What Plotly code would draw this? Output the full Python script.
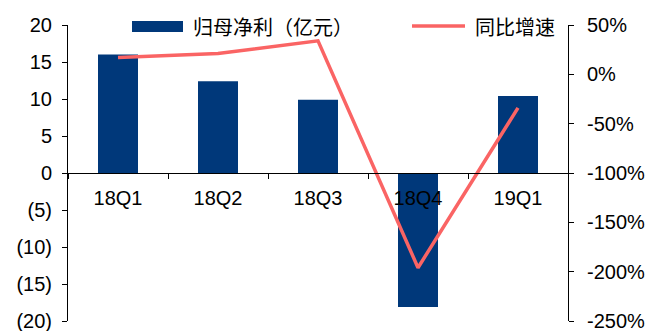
import plotly.graph_objects as go

# Quarterly data
quarters = ["18Q1", "18Q2", "18Q3", "18Q4", "19Q1"]
net_profit = [16.0, 12.4, 9.9, -18.1, 10.4]          # 归母净利（亿元）
yoy_growth = [17, 21, 34, -196, -34]                 # 同比增速（%）

# Axis tick labels
left_tickvals = [20, 15, 10, 5, 0, -5, -10, -15, -20]
left_ticktext = ["20", "15", "10", "5", "0", "(5)", "(10)", "(15)", "(20)"]
right_tickvals = [50, 0, -50, -100, -150, -200, -250]
right_ticktext = ["50%", "0%", "-50%", "-100%", "-150%", "-200%", "-250%"]

BAR_COLOR = "#00387A"
LINE_COLOR = "#FA6464"
FONT = "Liberation Sans, Arial, sans-serif"
CJK_FONT = "Noto Sans CJK SC"

fig = go.Figure()
fig.add_trace(go.Bar(
    x=quarters, y=net_profit, name="归母净利（亿元）",
    marker=dict(color=BAR_COLOR, line=dict(width=0)),
    yaxis="y", showlegend=False,
))
fig.add_trace(go.Scatter(
    x=quarters, y=yoy_growth, name="同比增速", mode="lines",
    line=dict(color=LINE_COLOR, width=3.5),
    yaxis="y2", showlegend=False,
))

fig.update_layout(
    width=649, height=331,
    margin=dict(l=68, r=81, t=25, b=10),
    paper_bgcolor="white", plot_bgcolor="white",
    bargap=0.6,
    font=dict(family=FONT, size=20, color="black"),
    xaxis=dict(
        anchor="free", position=0.5, automargin=False,
        showline=True, linecolor="black", linewidth=1,
        ticks="outside", tickson="boundaries", ticklen=5,
        tickcolor="black", showgrid=False, zeroline=False,
        tickfont=dict(family=FONT, size=20),
        ticklabelstandoff=7,
    ),
    yaxis=dict(
        range=[-20, 20], tickvals=left_tickvals, ticktext=left_ticktext,
        automargin=False,
        showline=True, linecolor="black", linewidth=1,
        ticks="outside", ticklen=5, tickcolor="black",
        showgrid=False, zeroline=False,
        tickfont=dict(family=FONT, size=20),
        ticklabeloverflow="allow", ticklabelstandoff=6,
    ),
    yaxis2=dict(
        range=[-250, 50], tickvals=right_tickvals, ticktext=right_ticktext,
        overlaying="y", side="right", automargin=False,
        showline=True, linecolor="black", linewidth=1,
        ticks="outside", ticklen=5, tickcolor="black",
        showgrid=False, zeroline=False,
        tickfont=dict(family=FONT, size=20),
        ticklabeloverflow="allow", ticklabelstandoff=9,
    ),
)

# Legend drawn across the top of the plot area
fig.add_shape(type="rect", xref="paper", yref="paper",
              x0=0.128, x1=0.23, y0=0.976, y1=1.0135,
              fillcolor=BAR_COLOR, line=dict(width=0))
fig.add_annotation(text="归母净利（亿元）", xref="paper", yref="paper",
                   x=0.246, y=0.995, xanchor="left", yanchor="middle",
                   showarrow=False, font=dict(family=CJK_FONT, size=20, color="black"))
fig.add_shape(type="line", xref="paper", yref="paper",
              x0=0.688, x1=0.794, y0=0.9966, y1=0.9966,
              line=dict(color=LINE_COLOR, width=3.5))
fig.add_annotation(text="同比增速", xref="paper", yref="paper",
                   x=0.81, y=0.995, xanchor="left", yanchor="middle",
                   showarrow=False, font=dict(family=CJK_FONT, size=20, color="black"))

fig.write_html("out.html")
